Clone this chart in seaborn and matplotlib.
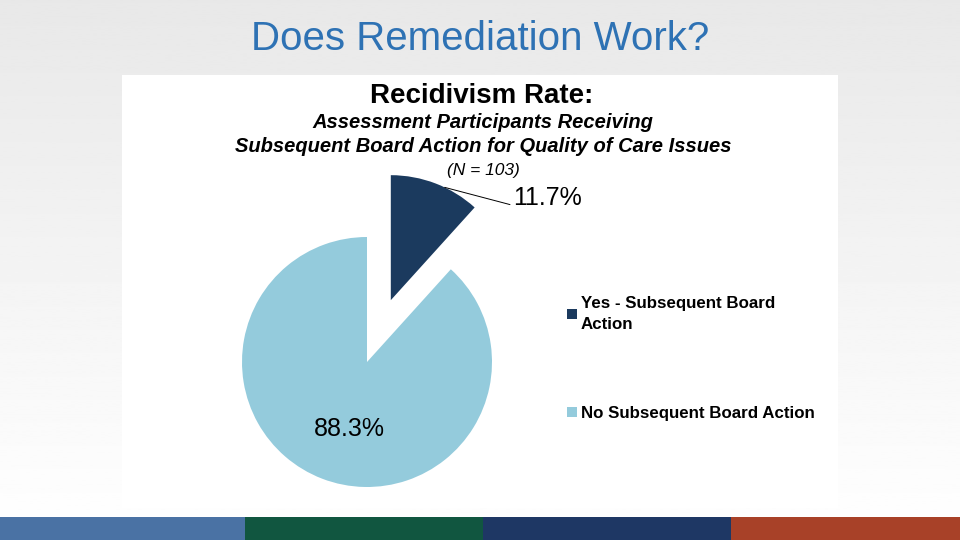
import matplotlib
matplotlib.use("Agg")
import matplotlib.pyplot as plt
import numpy as np
import seaborn as sns
from matplotlib.patches import Rectangle

# datos del grafico
categorias = ["Yes - Subsequent Board\nAction", "No Subsequent Board Action"]
porcentajes = [11.7, 88.3]
etiquetas = ["11.7%", "88.3%"]
colores = sns.color_palette(["#1b3a5e", "#94cbdc"])
franjas = ["#4a72a4", "#115640", "#1e3764", "#a84128"]

sns.set_style("white")
plt.rcParams["font.family"] = ["Liberation Sans", "DejaVu Sans"]
plt.rcParams["text.color"] = "black"

W, H = 960, 540
fig = plt.figure(figsize=(9.6, 5.4), dpi=100)

# fondo con degradado gris -> blanco
bg = fig.add_axes([0, 0, 1, 1], zorder=0)
grad = np.linspace(0.91, 1.0, 256).reshape(-1, 1)
bg.imshow(grad, cmap="gray", vmin=0, vmax=1, aspect="auto", extent=[0, 1, 0, 1])
bg.set_xlim(0, 1)
bg.set_ylim(0, 1)
bg.axis("off")

# panel blanco del grafico
bg.add_patch(Rectangle((122 / W, 1 - 508 / H), (838 - 122) / W, (508 - 75) / H,
                       facecolor="white", edgecolor="none"))

# franjas de colores abajo
ancho = [0, 245, 483, 731, 960]
for i, c in enumerate(franjas):
    bg.add_patch(Rectangle((ancho[i] / W, 0), (ancho[i + 1] - ancho[i]) / W, 23 / H,
                           facecolor=c, edgecolor="none"))

fig.text(480 / W, 1 - 39 / H, "Does Remediation Work?", ha="center", va="center",
         fontsize=29, color="#2e72b4")

fig.text(482 / W, 1 - 96 / H, "Recidivism Rate:", ha="center", va="center",
         fontsize=20, fontweight="bold")
fig.text(483 / W, 1 - 123 / H, "Assessment Participants Receiving", ha="center", va="center",
         fontsize=14.5, fontweight="bold", fontstyle="italic")
fig.text(483 / W, 1 - 147 / H, "Subsequent Board Action for Quality of Care Issues",
         ha="center", va="center", fontsize=14.5, fontweight="bold", fontstyle="italic")
fig.text(483 / W, 1 - 171 / H, "(N = 103)", ha="center", va="center",
         fontsize=12.5, fontstyle="italic")

# pastel: centro en (367, 362) px, radio 125 px
cx, cy, half = 367, 362, 200
ax = fig.add_axes([(cx - half) / W, 1 - (cy + half) / H, 2 * half / W, 2 * half / H], zorder=2)
lim = half / 125
wedges, _ = ax.pie(porcentajes, colors=colores, startangle=90, counterclock=False,
                   explode=[0.53, 0], radius=1, wedgeprops=dict(linewidth=0))
ax.set_xlim(-lim, lim)
ax.set_ylim(-lim, lim)
ax.set_aspect("equal")
ax.axis("off")

# etiqueta del trozo pequeno con linea guia
w = wedges[0]
ang = np.deg2rad(64.5)
px = w.center[0] + np.cos(ang)
py = w.center[1] + np.sin(ang)
ax.annotate(etiquetas[0], xy=(px, py), xytext=(1.17, 1.31), ha="left", va="center",
            fontsize=18, arrowprops=dict(arrowstyle="-", color="black", lw=0.7,
                                        shrinkA=0, shrinkB=0, relpos=(0, 0.2)))
ax.text(-0.14, -0.54, etiquetas[1], ha="center", va="center", fontsize=18)

leg = fig.legend(wedges, categorias, loc="upper left",
                 bbox_to_anchor=(552 / W, 1 - 281 / H), frameon=False,
                 prop=dict(weight="bold", size=12.2), handlelength=0.55, handleheight=0.55,
                 handletextpad=0.25, labelspacing=4.4)
for t in leg.get_texts():
    t.set_linespacing(1.45)

fig.savefig("out.png", dpi=100)
